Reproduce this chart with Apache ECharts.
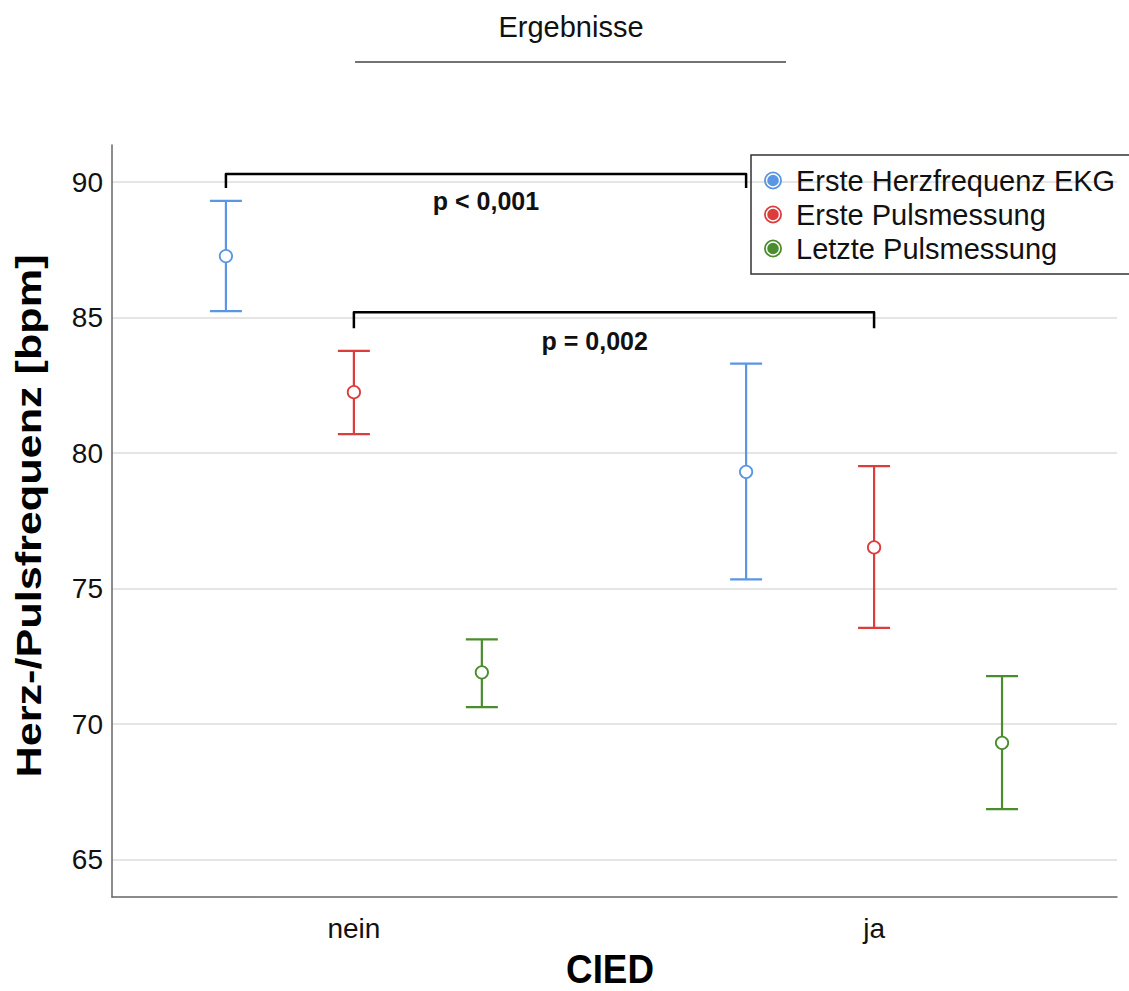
<!DOCTYPE html>
<html>
<head>
<meta charset="utf-8">
<script src="https://cdn.jsdelivr.net/npm/echarts@6/dist/echarts.min.js"></script>
<style>html,body{margin:0;padding:0;background:#fff;}#c{width:1129px;height:991px;}</style>
</head>
<body>
<div id="c"></div>
<script>
// ---- data ----
var categories = ['nein', 'ja'];
var seriesNames = ['Erste Herzfrequenz EKG', 'Erste Pulsmessung', 'Letzte Pulsmessung'];
var ekgMean  = [87.27, 79.31];
var ekgLow   = [85.24, 75.34];
var ekgHigh  = [89.31, 83.30];
var puls1Mean = [82.25, 76.52];
var puls1Low  = [80.70, 73.55];
var puls1High = [83.77, 79.52];
var puls2Mean = [71.91, 69.31];
var puls2Low  = [70.63, 66.86];
var puls2High = [73.13, 71.77];
var yTicks = [65, 70, 75, 80, 85, 90];
// significance brackets: [series index, bracket top value, tick end value, label value, label x shift, label]
var brackets = [
  [0, 90.30, 89.78, 89.30, 0.0, 'p < 0,001'],
  [1, 85.20, 84.61, 84.13, -0.037, 'p = 0,002']
];
var yAxisTitle = 'Herz-/Pulsfrequenz [bpm]';
var xAxisTitle = 'CIED';
var chartTitle = 'Ergebnisse';

var colors = ['#5a96e3', '#dc3c3c', '#4a8c2e'];
var offsets = [-0.246, 0, 0.246];
var groups = [[ekgMean, ekgLow, ekgHigh], [puls1Mean, puls1Low, puls1High], [puls2Mean, puls2Low, puls2High]];
var FONT = '"Liberation Sans", Arial, sans-serif';

function ringIcon() {
  return 'path://M50,0A50,50 0 1,1 50,100A50,50 0 1,1 50,0Z' +
         'M50,10A40,40 0 1,0 50,90A40,40 0 1,0 50,10Z' +
         'M50,18A32,32 0 1,1 50,82A32,32 0 1,1 50,18Z';
}

var series = groups.map(function (g, si) {
  var data = categories.map(function (c, ci) {
    return [ci + offsets[si], g[1][ci], g[2][ci], g[0][ci]];
  });
  return {
    name: seriesNames[si],
    type: 'custom',
    itemStyle: { color: colors[si] },
    data: data,
    z: 3,
    renderItem: function (params, api) {
      var x = api.value(0);
      var pHi = api.coord([x, api.value(2)]);
      var pLo = api.coord([x, api.value(1)]);
      var pM = api.coord([x, api.value(3)]);
      var cap = 16;
      var st = { stroke: colors[si], lineWidth: 2.2, fill: null };
      return {
        type: 'group',
        children: [
          { type: 'line', shape: { x1: pHi[0], y1: pHi[1], x2: pLo[0], y2: pLo[1] }, style: st },
          { type: 'line', shape: { x1: pHi[0] - cap, y1: pHi[1], x2: pHi[0] + cap, y2: pHi[1] }, style: st },
          { type: 'line', shape: { x1: pLo[0] - cap, y1: pLo[1], x2: pLo[0] + cap, y2: pLo[1] }, style: st },
          { type: 'circle', shape: { cx: pM[0], cy: pM[1], r: 6.2 }, style: { stroke: colors[si], fill: '#fff', lineWidth: 1.8 } }
        ]
      };
    }
  };
});

series.push({
  type: 'custom',
  silent: true,
  z: 4,
  data: brackets.map(function (b) {
    return [0 + offsets[b[0]], 1 + offsets[b[0]], b[1], b[2], b[3], b[4]];
  }),
  renderItem: function (params, api) {
    var x1 = api.value(0), x2 = api.value(1);
    var top = api.value(2), end = api.value(3), lab = api.value(4), shift = api.value(5);
    var a = api.coord([x1, end]), b = api.coord([x1, top]), c = api.coord([x2, top]), d = api.coord([x2, end]);
    var t = api.coord([(x1 + x2) / 2 + shift, lab]);
    return {
      type: 'group',
      children: [
        { type: 'polyline', shape: { points: [a, b, c, d] }, style: { stroke: '#000', lineWidth: 2.5, fill: null, lineJoin: 'round' } },
        { type: 'text', x: t[0], y: t[1], style: { text: brackets[params.dataIndex][5], fill: '#111', font: 'bold 25px ' + FONT, align: 'center', verticalAlign: 'middle' } }
      ]
    };
  }
});

var chart = echarts.init(document.getElementById('c'), null, { renderer: 'svg' });
chart.setOption({
  animation: false,
  backgroundColor: '#fff',
  textStyle: { fontFamily: FONT },
  title: {
    text: chartTitle,
    left: 566, top: 7, textAlign: 'center',
    textStyle: { fontSize: 29, fontWeight: 'normal', color: '#111' }
  },
  graphic: [
    { type: 'line', shape: { x1: 355, y1: 62, x2: 786, y2: 62 }, style: { stroke: '#444', lineWidth: 1.5 } },
    { type: 'text', x: 28, y: 516, rotation: Math.PI / 2, scaleX: 1.2, scaleY: 1,
      style: { text: yAxisTitle, font: 'bold 36px ' + FONT, fill: '#000', align: 'center', verticalAlign: 'middle' } },
    { type: 'text', x: 610, y: 969, scaleX: 0.92, scaleY: 1,
      style: { text: xAxisTitle, font: 'bold 40px ' + FONT, fill: '#000', align: 'center', verticalAlign: 'middle' } }
  ],
  legend: {
    orient: 'vertical',
    left: 751, top: 155,
    padding: [11, 40, 11, 13],
    borderColor: '#333', borderWidth: 1.5,
    itemWidth: 18, itemHeight: 18, itemGap: 5,
    textStyle: { fontSize: 29, color: '#111', padding: [0, 0, 0, 9] },
    data: seriesNames.map(function (n, i) { return { name: n, icon: ringIcon(), itemStyle: { color: colors[i] } }; })
  },
  grid: { left: 112, right: 12, top: 145, bottom: 94, containLabel: false, outerBoundsMode: 'none' },
  xAxis: {
    type: 'value',
    min: -0.465, max: 1.467,
    axisLine: { show: true, onZero: false, lineStyle: { color: '#666', width: 1.5 } },
    axisTick: { show: false, customValues: [0, 1] },
    splitLine: { show: false },
    axisLabel: { customValues: [0, 1], formatter: function (v) { return categories[Math.round(v)]; }, fontSize: 28, color: '#111', margin: 17 }
  },
  yAxis: {
    type: 'value',
    min: 63.62, max: 91.37,
    axisLine: { show: true, onZero: false, lineStyle: { color: '#666', width: 1.5 } },
    axisTick: { show: false, customValues: yTicks },
    splitLine: { show: true, lineStyle: { color: '#dcdcdc', width: 1.5 } },
    axisLabel: { customValues: yTicks, fontSize: 28, color: '#111', margin: 9 }
  },
  series: series
});
</script>
</body>
</html>
